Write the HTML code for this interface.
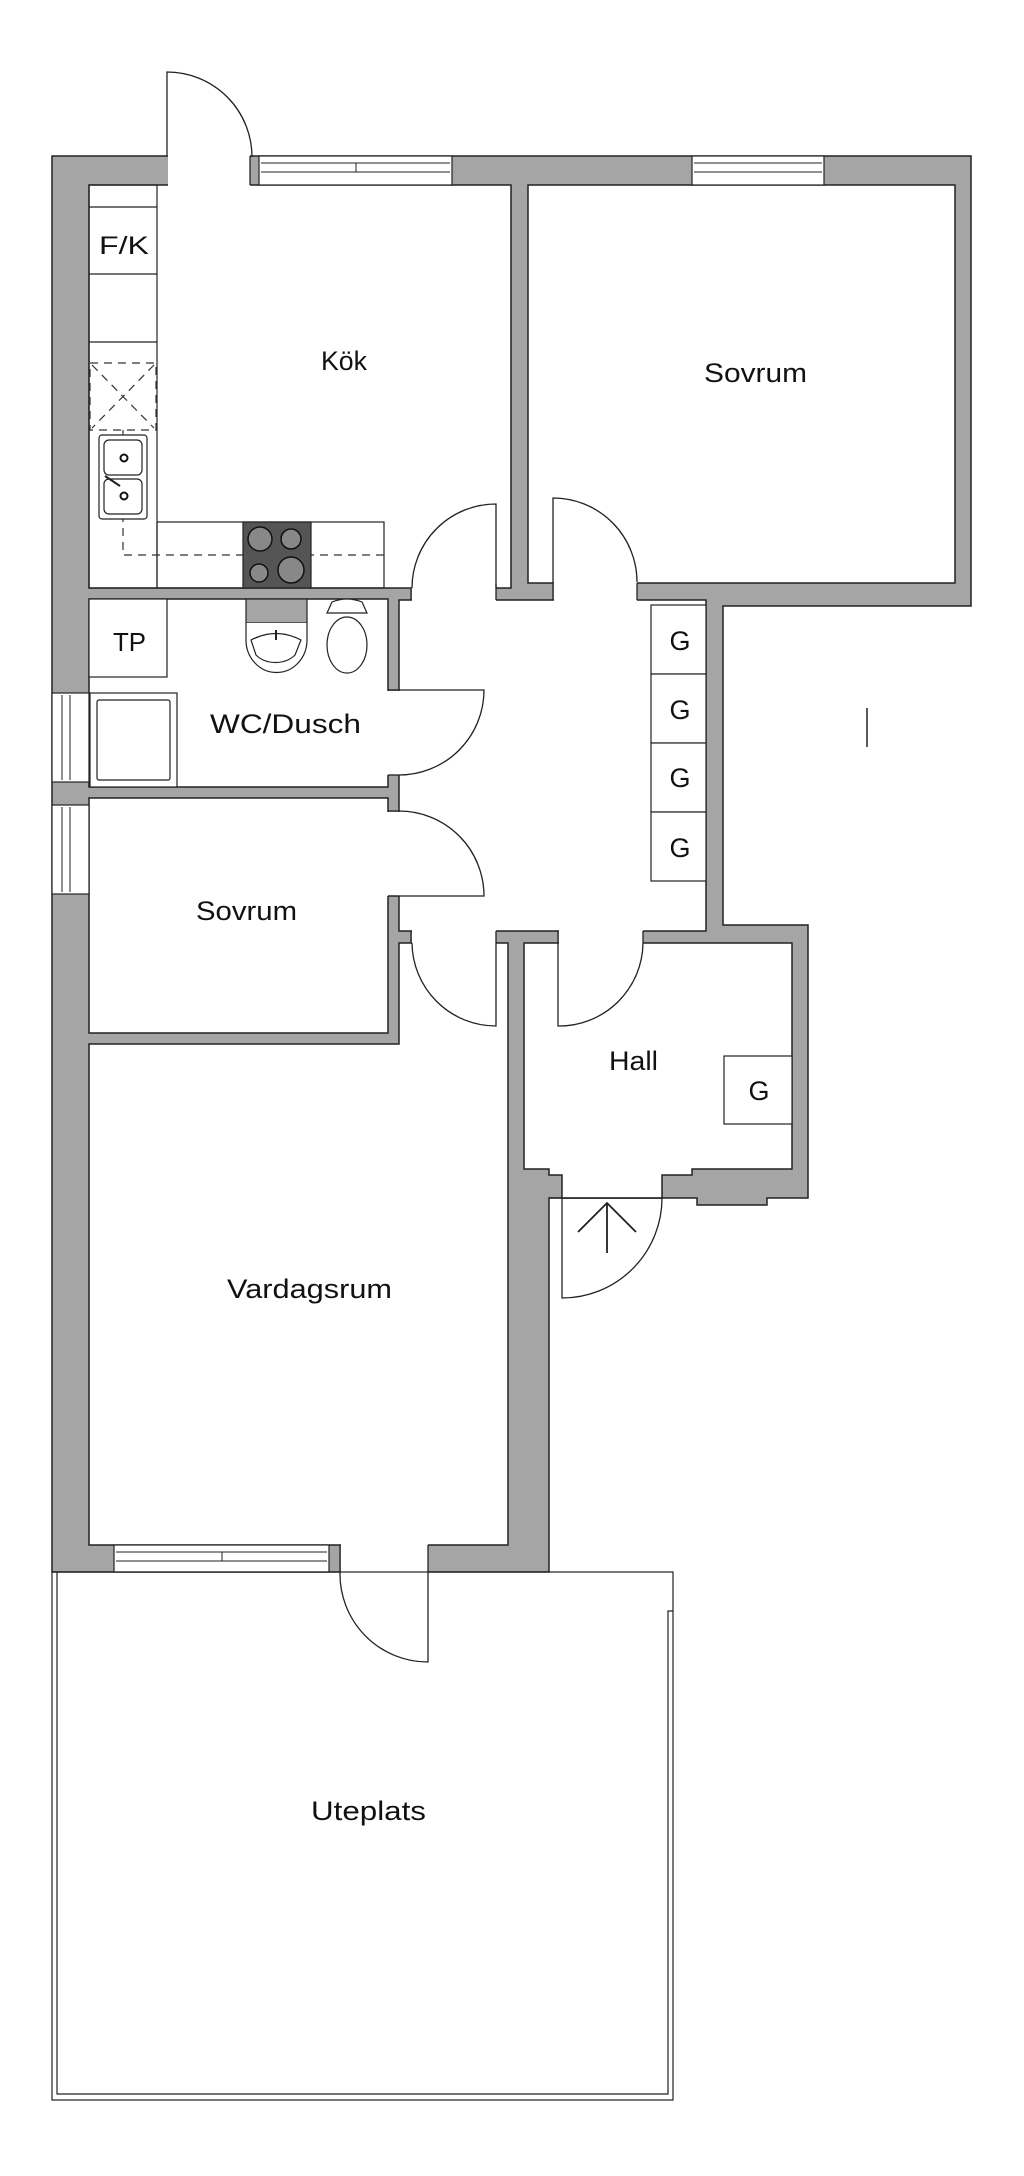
<!DOCTYPE html>
<html><head><meta charset="utf-8"><style>
html,body{margin:0;padding:0;background:#fff;}
svg{display:block;}
text{font-family:"Liberation Sans",sans-serif;fill:#111;}
</style></head><body>
<svg width="1024" height="2176" viewBox="0 0 1024 2176" xmlns="http://www.w3.org/2000/svg">
<!-- footprint -->
<polygon points="52,156 971,156 971,606 723,606 723,925 808,925 808,1198 767,1198 767,1205 697,1205 697,1198 549,1198 549,1572 52,1572" fill="#a5a5a5" stroke="#222" stroke-width="1.5"/>
<g fill="#fff" stroke="#222" stroke-width="1.5">
<rect x="89" y="185" width="422" height="403"/>
<rect x="528" y="185" width="427" height="398"/>
<rect x="89" y="599" width="299" height="188"/>
<rect x="89" y="798" width="299" height="235"/>
<rect x="399" y="600" width="307" height="331"/>
<polygon points="89,1044 399,1044 399,943 508,943 508,1545 89,1545"/>
<polygon points="524,943 792,943 792,1169 692,1169 692,1175 662,1175 662,1198 562,1198 562,1175 549,1175 549,1169 524,1169"/>
</g>
<!-- gray bits inside -->
<rect x="246" y="599" width="61" height="24" fill="#a5a5a5" stroke="#222" stroke-width="1.2"/>
<!-- door gaps -->
<g fill="#fff">
<rect x="168" y="154" width="82" height="33"/>
<rect x="412" y="586" width="84" height="16"/>
<rect x="554" y="581" width="83" height="21"/>
<rect x="386" y="691" width="15" height="84"/>
<rect x="386" y="812" width="15" height="84"/>
<rect x="412" y="929" width="84" height="16"/>
<rect x="559" y="929" width="84" height="16"/>
<rect x="341" y="1543" width="87" height="31"/>
</g>
<g stroke="#222" stroke-width="1.3" fill="none">
<!-- wall end lines for gaps -->
<line x1="250" y1="156" x2="250" y2="185"/>
<line x1="411" y1="588" x2="411" y2="600"/>
<line x1="496" y1="584" x2="496" y2="600"/>
<line x1="553" y1="584" x2="553" y2="600"/>
<line x1="637" y1="583" x2="637" y2="600"/>
<line x1="388" y1="690" x2="399" y2="690"/>
<line x1="388" y1="775" x2="399" y2="775"/>
<line x1="388" y1="811" x2="399" y2="811"/>
<line x1="388" y1="896" x2="399" y2="896"/>
<line x1="411" y1="931" x2="411" y2="943"/>
<line x1="496" y1="931" x2="496" y2="943"/>
<line x1="558" y1="931" x2="558" y2="943"/>
<line x1="643" y1="931" x2="643" y2="943"/>
<line x1="340" y1="1545" x2="340" y2="1572"/>
<line x1="428" y1="1545" x2="428" y2="1572"/>
<!-- doors -->
<path d="M167,156 L167,72 A85,85 0 0 1 252,157"/>
<path d="M496,588 L496,504 A84,84 0 0 0 412,588"/>
<path d="M553,583 L553,498 A84,84 0 0 1 637,582"/>
<path d="M388,690 L484,690 A85,85 0 0 1 399,775"/>
<path d="M388,896 L484,896 A85,85 0 0 0 399,811"/>
<path d="M496,943 L496,1026 A84,84 0 0 1 412,943"/>
<path d="M558,943 L558,1026 A84,84 0 0 0 643,943"/>
<path d="M549,1198 L662,1198"/>
<path d="M562,1198 L562,1298 A100,100 0 0 0 662,1198"/>
<path d="M428,1572 L428,1662 A88,88 0 0 1 340,1572"/>
<!-- arrow -->
<path d="M607,1253 L607,1203 M578,1232 L607,1203 L636,1232" stroke-width="1.8"/>
</g>
<!-- windows -->
<g fill="#fff" stroke="#222" stroke-width="1.2">
<rect x="259" y="156" width="193" height="29"/>
<rect x="692" y="156" width="132" height="29"/>
<rect x="52" y="693" width="37" height="89"/>
<rect x="52" y="805" width="37" height="89"/>
<rect x="114" y="1545" width="215" height="27"/>
</g>
<g stroke="#222" stroke-width="1" fill="none">
<path d="M261,163 H450 M261,172 H450 M356,163 V172"/>
<path d="M694,163 H822 M694,172 H822"/>
<path d="M62,695 V780 M70,695 V780 M62,807 V892 M70,807 V892"/>
<path d="M116,1552 H327 M116,1561 H327 M222,1552 V1561"/>
</g>
<!-- kitchen -->
<g stroke="#222" stroke-width="1.2" fill="none">
<rect x="89" y="185" width="68" height="403"/>
<line x1="89" y1="207" x2="157" y2="207"/>
<line x1="89" y1="274" x2="157" y2="274"/>
<line x1="89" y1="342" x2="157" y2="342"/>
<rect x="157" y="522" width="227" height="66"/>
</g>
<g stroke="#333" stroke-width="1.2" fill="none" stroke-dasharray="8,6">
<rect x="90" y="363" width="66" height="67"/>
<path d="M92,365 L154,428 M154,365 L92,428"/>
<path d="M123,430 V555 H384"/>
</g>
<rect x="99" y="435" width="48" height="84" rx="3" fill="#fff" stroke="#222" stroke-width="1.2"/>
<rect x="104" y="440" width="38" height="35" rx="5" fill="none" stroke="#222" stroke-width="1.2"/>
<rect x="104" y="479" width="38" height="35" rx="5" fill="none" stroke="#222" stroke-width="1.2"/>
<circle cx="124" cy="458" r="3.5" fill="none" stroke="#111" stroke-width="2"/>
<circle cx="124" cy="496" r="3.5" fill="none" stroke="#111" stroke-width="2"/>
<line x1="105" y1="476" x2="120" y2="486" stroke="#222" stroke-width="2"/>
<rect x="243" y="522" width="68" height="66" fill="#555" stroke="#222" stroke-width="1.2"/>
<g fill="#888" stroke="#111" stroke-width="1.5">
<circle cx="260" cy="539" r="12"/><circle cx="291" cy="539" r="10"/>
<circle cx="259" cy="573" r="9"/><circle cx="291" cy="570" r="13"/>
</g>
<!-- bathroom -->
<g stroke="#222" stroke-width="1.2" fill="#fff">
<rect x="89" y="599" width="78" height="78"/>
<path d="M246,623 V640 A30,32 0 0 0 307,640 V623"/>
<path d="M251,640 Q276,627 301,640 L295,655 A25,20 0 0 1 256,655 Z"/>
<ellipse cx="347" cy="645" rx="20" ry="28"/>
<path d="M332,602 Q347,596 362,602 L367,613 L327,613 Z"/>
<rect x="90" y="693" width="87" height="94"/>
<rect x="97" y="700" width="73" height="80" rx="2"/>
</g>
<line x1="276" y1="630" x2="276" y2="640" stroke="#222" stroke-width="2"/>
<!-- G cabinets -->
<g stroke="#222" stroke-width="1.2" fill="#fff">
<rect x="651" y="605" width="55" height="69"/>
<rect x="651" y="674" width="55" height="69"/>
<rect x="651" y="743" width="55" height="69"/>
<rect x="651" y="812" width="55" height="69"/>
<rect x="724" y="1056" width="68" height="68"/>
</g>
<line x1="867" y1="708" x2="867" y2="747" stroke="#222" stroke-width="1.5"/>
<!-- patio -->
<g stroke="#222" stroke-width="1.2" fill="none">
<rect x="52" y="1572" width="621" height="528"/>
<path d="M57,1572 V2094 H668 V1611 H673"/>
</g>
<!-- labels -->
<text x="321" y="370" font-size="27" textLength="46" lengthAdjust="spacingAndGlyphs">Kök</text>
<text x="704" y="382" font-size="27" textLength="103" lengthAdjust="spacingAndGlyphs">Sovrum</text>
<text x="99" y="254" font-size="25" textLength="50" lengthAdjust="spacingAndGlyphs">F/K</text>
<text x="113" y="651" font-size="26" textLength="33" lengthAdjust="spacingAndGlyphs">TP</text>
<text x="210" y="733" font-size="27" textLength="151" lengthAdjust="spacingAndGlyphs">WC/Dusch</text>
<text x="196" y="920" font-size="27" textLength="101" lengthAdjust="spacingAndGlyphs">Sovrum</text>
<text x="609" y="1070" font-size="27" textLength="49" lengthAdjust="spacingAndGlyphs">Hall</text>
<text x="227" y="1298" font-size="27" textLength="165" lengthAdjust="spacingAndGlyphs">Vardagsrum</text>
<text x="311" y="1820" font-size="27" textLength="115" lengthAdjust="spacingAndGlyphs">Uteplats</text>
<g font-size="27" text-anchor="middle">
<text x="680" y="650">G</text><text x="680" y="719">G</text>
<text x="680" y="787">G</text><text x="680" y="857">G</text>
<text x="759" y="1100">G</text>
</g>
</svg>
</body></html>
